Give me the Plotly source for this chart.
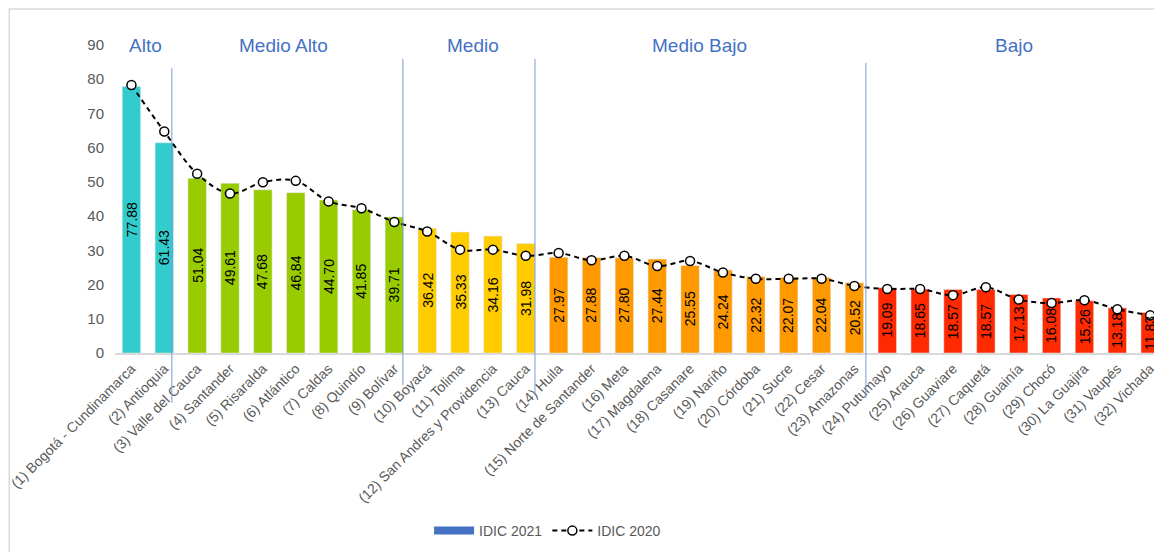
import plotly.graph_objects as go

categories = [
    "(1) Bogotá - Cundinamarca", "(2) Antioquia", "(3) Valle del Cauca", "(4) Santander",
    "(5) Risaralda", "(6) Atlántico", "(7) Caldas", "(8) Quindío", "(9) Bolívar",
    "(10) Boyacá", "(11) Tolima", "(12) San Andres y Providencia", "(13) Cauca",
    "(14) Huila", "(15) Norte de Santander", "(16) Meta", "(17) Magdalena",
    "(18) Casanare", "(19) Nariño", "(20) Córdoba", "(21) Sucre", "(22) Cesar",
    "(23) Amazonas", "(24) Putumayo", "(25) Arauca", "(26) Guaviare", "(27) Caquetá",
    "(28) Guainía", "(29) Chocó", "(30) La Guajira", "(31) Vaupés", "(32) Vichada",
]
idic_2021 = [77.88, 61.43, 51.04, 49.61, 47.68, 46.84, 44.70, 41.85, 39.71,
             36.42, 35.33, 34.16, 31.98, 27.97, 27.88, 27.80, 27.44, 25.55,
             24.24, 22.32, 22.07, 22.04, 20.52, 19.09, 18.65, 18.57, 18.57,
             17.13, 16.08, 15.26, 13.18, 11.83]
idic_2020 = [78.3, 64.7, 52.4, 46.6, 49.9, 50.3, 44.3, 42.3, 38.3,
             35.5, 30.2, 30.2, 28.4, 29.2, 27.1, 28.4, 25.4, 26.9,
             23.5, 21.7, 21.7, 21.7, 19.6, 18.7, 18.7, 16.9, 19.2,
             15.6, 14.6, 15.4, 12.8, 11.0]
groups = ["Alto"] * 2 + ["Medio Alto"] * 7 + ["Medio"] * 4 + ["Medio Bajo"] * 10 + ["Bajo"] * 9
group_names = ["Alto", "Medio Alto", "Medio", "Medio Bajo", "Bajo"]
group_colors = {"Alto": "#33CCCC", "Medio Alto": "#99CC00", "Medio": "#FFCC00",
                "Medio Bajo": "#FF9900", "Bajo": "#FF2A00"}
group_label_x = [0.44, 4.64, 10.39, 17.3, 26.86]
separator_x = [1.23, 8.26, 12.28, 22.35]
separator_top = [0.925, 0.955, 0.955, 0.942]
separator_bottom = [-0.162, -0.104, -0.136, -0.146]

FONT = "Liberation Sans"
GRAY = "#595959"
xs = list(range(len(categories)))

fig = go.Figure()
fig.add_trace(go.Bar(
    x=xs, y=idic_2021, marker_color=[group_colors[g] for g in groups],
    width=0.56, showlegend=False, hoverinfo="y",
))
fig.add_trace(go.Scatter(
    x=[None], y=[None], mode="lines", name="IDIC 2021",
    line=dict(color="#4472C4", width=8),
))
fig.add_trace(go.Scatter(
    x=xs, y=idic_2020, mode="lines+markers", name="IDIC 2020",
    line=dict(color="black", width=2, dash="5px,4px", shape="spline", smoothing=1),
    marker=dict(symbol="circle", size=9, color="white", line=dict(color="black", width=1.5)),
))

for x, v in zip(xs, idic_2021):
    fig.add_annotation(x=x, y=v / 2, text=f"{v:.2f}", textangle=-90, showarrow=False,
                       font=dict(family=FONT, size=14, color="black"))

for name, gx in zip(group_names, group_label_x):
    fig.add_annotation(x=gx, y=90, text=name, showarrow=False, yanchor="middle",
                       font=dict(family=FONT, size=19, color="#4472C4"))

for sx, t, b in zip(separator_x, separator_top, separator_bottom):
    fig.add_shape(type="line", xref="x", yref="paper", x0=sx, x1=sx, y0=b, y1=t,
                  line=dict(color="#7B9BD9", width=1))

fig.add_shape(type="rect", xref="paper", yref="paper", x0=-0.101, x1=1.2, y0=-2, y1=1.117,
              line=dict(color="#D9D9D9", width=1.5), fillcolor="rgba(0,0,0,0)", layer="below")

fig.update_layout(
    width=1154, height=544,
    margin=dict(l=107, r=0, t=37, b=199),
    paper_bgcolor="white", plot_bgcolor="white",
    font=dict(family=FONT, color=GRAY, size=14),
    bargap=0.44,
    legend=dict(orientation="h", x=0.3, xanchor="left", y=-0.578, yanchor="middle",
                font=dict(family=FONT, size=14, color=GRAY), itemwidth=40),
)
fig.update_xaxes(
    range=[-0.5, 31.36], tickmode="array", tickvals=xs, ticktext=categories,
    tickangle=-45, tickfont=dict(family=FONT, size=14, color=GRAY),
    ticklabeloverflow="allow",
    showline=True, linecolor="#D9D9D9", linewidth=2, showgrid=False, zeroline=False,
)
fig.update_yaxes(
    range=[0, 90], dtick=10, showgrid=False, zeroline=False, showline=False,
    tickfont=dict(family=FONT, size=15, color=GRAY), ticklabelstandoff=10,
)

fig.write_html("out.html")
